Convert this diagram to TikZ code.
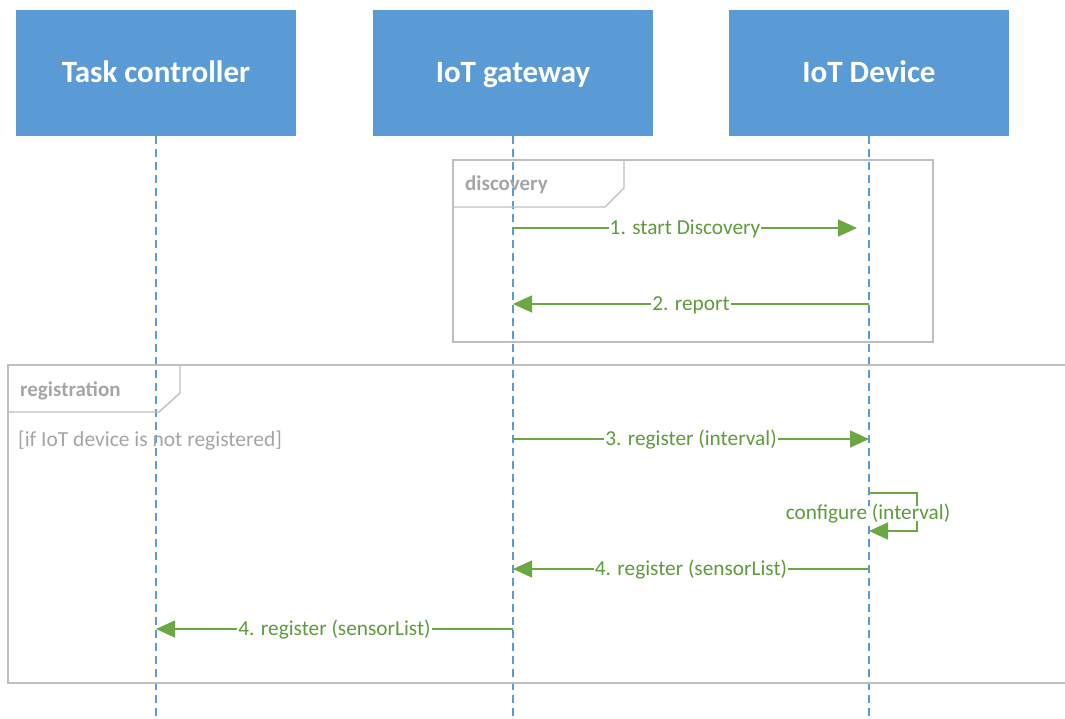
\documentclass[tikz,border=0pt]{standalone}
\usepackage{fontspec}
\setmainfont{Carlito}
\usetikzlibrary{arrows.meta}
\definecolor{hdrblue}{HTML}{5B9BD5}
\definecolor{msggreen}{HTML}{6BA843}
\definecolor{msgtext}{HTML}{5E9C3C}
\definecolor{framegray}{HTML}{BFBFBF}
\definecolor{labelgray}{HTML}{A5A5A5}

\begin{document}
\begin{tikzpicture}[x=1pt,y=-1pt,
  actor/.style={fill=hdrblue, minimum width=280pt, minimum height=126pt, inner sep=0pt,
    text height=19pt, text depth=0pt,
    text=white, font=\fontsize{31}{36}\selectfont\bfseries},
  lifeline/.style={draw=hdrblue, line width=1.2pt, dash pattern=on 8pt off 5pt},
  msg/.style={draw=msggreen, line width=1.4pt, -{Triangle[length=19pt,width=17pt]}},
  msglabel/.style={fill=white, inner sep=1pt, text height=13pt, text depth=0pt,
    text=msgtext, font=\fontsize{21.3}{25}\selectfont},
  umlframe/.style={draw=framegray, line width=1.4pt},
  framename/.style={anchor=base west, text=labelgray, font=\fontsize{21}{25}\selectfont\bfseries, inner sep=0pt},
  guardtext/.style={anchor=base west, text=labelgray, font=\fontsize{21.5}{25}\selectfont, inner sep=0pt}]

\useasboundingbox (0,0) rectangle (1065,719);

% participants
\node[actor] (tc) at (156,73) {Task controller};
\node[actor] (gw) at (513,73) {IoT gateway};
\node[actor] (dev) at (869,73) {IoT Device};

% lifeline ends
\coordinate (tcEnd) at (156,719);
\coordinate (gwEnd) at (513,719);
\coordinate (devEnd) at (869,719);

\draw[lifeline] (tc.south) -- (tcEnd);
\draw[lifeline] (gw.south) -- (gwEnd);
\draw[lifeline] (dev.south) -- (devEnd);

% discovery fragment
\draw[umlframe] (453,160) rectangle (933,342);
\draw[umlframe] (453,207) -- (605,207) -- (624,188) -- (624,160);
\node[framename] (discName) at (465,191) {discovery};

% registration fragment (runs past the right edge)
\draw[umlframe] (1070,365) -- (8,365) -- (8,683) -- (1070,683);
\draw[umlframe] (8,412) -- (159,412) -- (180,393) -- (180,365);
\node[framename] (regName) at (20,396) {registration};
\node[guardtext] (guard) at (18,446) {[if IoT device is not registered]};

% message anchor points on the lifelines
\coordinate (gw1) at (513,228);
\coordinate (dev1) at (857,228);
\coordinate (dev2) at (869,304);
\coordinate (gw2) at (513,304);
\coordinate (gw3) at (513,439);
\coordinate (dev3) at (869,439);
\coordinate (devA) at (869,493);
\coordinate (loopA) at (917,493);
\coordinate (loopB) at (917,531);
\coordinate (devB) at (869,531);
\coordinate (dev4) at (869,569);
\coordinate (gw4) at (513,569);
\coordinate (gw5) at (513,629);
\coordinate (tc5) at (156,629);

% messages
\draw[msg] (gw1) -- node[msglabel] (m1) {1. start Discovery} (dev1);
\draw[msg] (dev2) -- node[msglabel] (m2) {2. report} (gw2);
\draw[msg] (gw3) -- node[msglabel] (m3) {3. register (interval)} (dev3);
\draw[msg] (devA) -- (loopA) -- (loopB) -- (devB);
\node[msglabel] (cfg) at (868,513) {configure (interval)};
\draw[msg] (dev4) -- node[msglabel] (m4) {4. register (sensorList)} (gw4);
\draw[msg] (gw5) -- node[msglabel] (m5) {4. register (sensorList)} (tc5);

\end{tikzpicture}
\end{document}
